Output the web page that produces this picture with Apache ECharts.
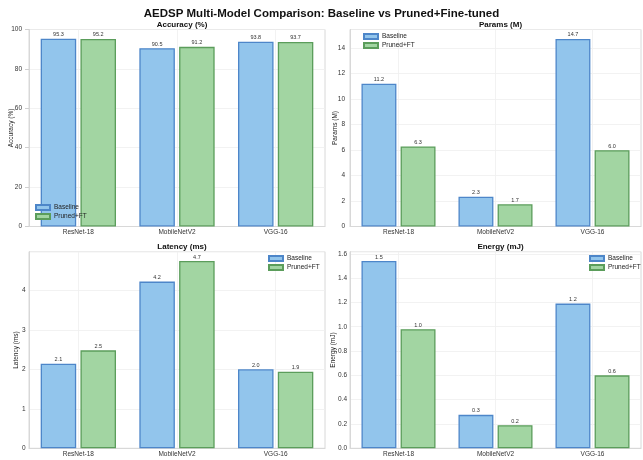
<!DOCTYPE html>
<html>
<head>
<meta charset="utf-8">
<script src="https://cdn.jsdelivr.net/npm/echarts@6/dist/echarts.min.js"></script>
<style>html,body{margin:0;padding:0;background:#fff}#c{width:643px;height:460px}</style>
</head>
<body>
<div id="c"></div>
<script>
const categories = ['ResNet-18', 'MobileNetV2', 'VGG-16'];
const seriesNames = ['Baseline', 'Pruned+FT'];
const accBaseline = [95.3, 90.5, 93.8];
const accPruned = [95.2, 91.2, 93.7];
const paramsBaseline = [11.18, 2.33, 14.7];
const paramsPruned = [6.27, 1.74, 5.98];
const latBaseline = [2.14, 4.22, 2.0];
const latPruned = [2.48, 4.74, 1.94];
const energyBaseline = [1.54, 0.275, 1.19];
const energyPruned = [0.98, 0.19, 0.6];
const panelTitles = ['Accuracy (%)', 'Params (M)', 'Latency (ms)', 'Energy (mJ)'];
const yNames = ['Accuracy (%)', 'Params (M)', 'Latency (ms)', 'Energy (mJ)'];

const FONT = 'Liberation Sans, Arial, sans-serif';
const baseStyle = {color: '#92c5ec', borderColor: '#4d86c9', borderWidth: 1.3};
const prunedStyle = {color: '#a2d5a2', borderColor: '#5b9d5b', borderWidth: 1.3};

const grids = [
  {left: 29, width: 296, top: 29.5, height: 197},
  {left: 350, width: 291, top: 29.5, height: 197},
  {left: 29, width: 296, top: 251.7, height: 196.6},
  {left: 350, width: 291, top: 251.7, height: 196.6}
];
const yCfg = [
  {min: 0, max: 100, interval: 20, dec: 0, gap: 14.5, margin: 7},
  {min: 0, max: v => v.max * 1.05, interval: 2, dec: 0, gap: 11, margin: 5},
  {min: 0, max: v => v.max * 1.05, interval: 1, dec: 0, gap: 9.5, margin: 3.5},
  {min: 0, max: v => v.max * 1.05, interval: 0.2, dec: 1, gap: 13, margin: 3}
];
const dataSets = [
  [accBaseline, accPruned],
  [paramsBaseline, paramsPruned],
  [latBaseline, latPruned],
  [energyBaseline, energyPruned]
];
const legendPos = [
  {left: 35, top: 204},
  {left: 363, top: 33},
  {left: 268, top: 255},
  {left: 589, top: 255}
];

const titles = [{
  text: 'AEDSP Multi-Model Comparison: Baseline vs Pruned+Fine-tuned',
  left: 'center', top: 3,
  textStyle: {fontFamily: FONT, fontSize: 11.5, fontWeight: 'bold', color: '#111'}
}];
grids.forEach((g, i) => {
  titles.push({
    text: panelTitles[i],
    left: g.left + g.width / 2, top: g.top - 13.5, textAlign: 'center',
    textStyle: {fontFamily: FONT, fontSize: 8, fontWeight: 'bold', color: '#111'}
  });
});

const xAxes = grids.map((g, i) => ({
  type: 'category', gridIndex: i, data: categories,
  axisLine: {show: true, lineStyle: {color: '#d8d8d8'}},
  axisTick: {show: false},
  axisLabel: {fontFamily: FONT, fontSize: 6.5, color: '#333', margin: 2},
  splitLine: {show: true, alignWithLabel: true, lineStyle: {color: '#efefef', width: 0.8}}
}));
const yAxes = grids.map((g, i) => ({
  type: 'value', gridIndex: i,
  min: yCfg[i].min, max: yCfg[i].max, interval: yCfg[i].interval,
  name: yNames[i], nameLocation: 'middle', nameGap: yCfg[i].gap, nameMoveOverlap: false,
  nameTextStyle: {fontFamily: FONT, fontSize: 6.5, color: '#222'},
  axisLine: {show: true, lineStyle: {color: '#d8d8d8'}},
  axisTick: {show: i === 0, length: 4, lineStyle: {color: '#d0d0d0'}},
  axisLabel: {fontFamily: FONT, fontSize: 6.5, color: '#333', margin: yCfg[i].margin, showMaxLabel: i === 0,
    formatter: v => v.toFixed(yCfg[i].dec)},
  splitLine: {show: true, lineStyle: {color: '#efefef', width: 0.8}}
}));

const series = [];
dataSets.forEach((ds, i) => {
  ds.forEach((arr, j) => {
    series.push({
      type: 'bar', name: seriesNames[j], xAxisIndex: i, yAxisIndex: i,
      data: arr, barWidth: '36%', barGap: '12%',
      itemStyle: j === 0 ? baseStyle : prunedStyle,
      label: {show: true, position: 'top', distance: 1, fontFamily: FONT, fontSize: 5.5, color: '#333',
        formatter: p => p.value.toFixed(1)}
    });
  });
});

const legends = legendPos.map(p => ({
  data: seriesNames, orient: 'vertical', left: p.left, top: p.top,
  icon: 'rect', itemWidth: 14, itemHeight: 5, itemGap: 2,
  textStyle: {fontFamily: FONT, fontSize: 6.5, color: '#222', padding: [0, 0, 0, -1]},
  padding: 0, selectedMode: false
}));

const chart = echarts.init(document.getElementById('c'), null, {renderer: 'canvas'});
chart.setOption({
  animation: false,
  backgroundColor: '#fff',
  title: titles,
  grid: grids.map(g => Object.assign({show: true, containLabel: false, outerBoundsMode: 'none',
    borderColor: '#d8d8d8', borderWidth: 1, backgroundColor: '#fff'}, g)),
  xAxis: xAxes,
  yAxis: yAxes,
  legend: legends,
  series: series
});
</script>
</body>
</html>
